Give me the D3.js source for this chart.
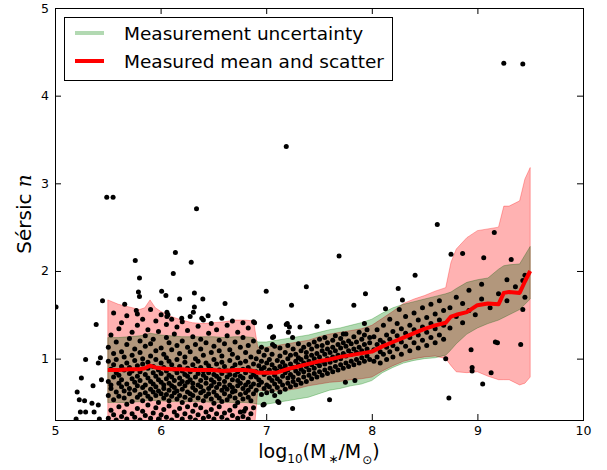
<!DOCTYPE html>
<html>
<head>
<meta charset="utf-8">
<script src="https://cdn.jsdelivr.net/npm/d3@7"></script>
<style>
  body { margin: 0; background: #fff; }
  svg { font-family: "DejaVu Sans", sans-serif; }
</style>
</head>
<body>
<svg id="chart" width="607" height="470"></svg>
<script>
// binned mean and scatter of Sersic n vs stellar mass
const binMass = [5.5, 5.6, 5.7, 5.8, 5.85, 5.9, 5.95, 6.0, 6.1, 6.2, 6.3, 6.4, 6.5, 6.6, 6.7, 6.8, 6.88, 6.92,
  7.0, 7.1, 7.2, 7.3, 7.4, 7.5, 7.6, 7.7, 7.8, 7.9, 8.0, 8.1, 8.2, 8.3, 8.4, 8.5, 8.6, 8.7, 8.75,
  8.8, 8.9, 9.0, 9.1, 9.2, 9.25, 9.3, 9.4, 9.45, 9.5];
const meanN = [0.87, 0.87, 0.88, 0.88, 0.89, 0.92, 0.90, 0.89, 0.88, 0.88, 0.87, 0.87, 0.87, 0.86, 0.87, 0.87, 0.86, 0.84,
  0.84, 0.84, 0.88, 0.91, 0.94, 0.97, 0.99, 1.02, 1.04, 1.06, 1.08, 1.14, 1.19, 1.24, 1.29, 1.34, 1.38, 1.41, 1.48,
  1.50, 1.53, 1.61, 1.63, 1.62, 1.75, 1.76, 1.75, 1.88, 2.00];
const scatterLo = [0.07, 0.06, 0.07, 0.08, 0.07, 0.05, 0.06, 0.08, 0.07, 0.08, 0.09, 0.08, 0.09, 0.08, 0.07, 0.08, 0.09, 0.64,
  0.63, 0.63, 0.64, 0.66, 0.69, 0.71, 0.73, 0.74, 0.76, 0.77, 0.79, 0.86, 0.92, 0.97, 1.00, 1.02, 1.03, 1.00, 0.92,
  0.85, 0.84, 0.85, 0.80, 0.76, 0.76, 0.76, 0.70, 0.72, 0.79];
const scatterHi = [1.67, 1.62, 1.59, 1.56, 1.58, 1.67, 1.58, 1.54, 1.48, 1.44, 1.41, 1.40, 1.41, 1.42, 1.44, 1.44, 1.43, 1.13,
  1.13, 1.15, 1.17, 1.19, 1.21, 1.25, 1.28, 1.30, 1.32, 1.34, 1.38, 1.46, 1.54, 1.63, 1.68, 1.72, 1.77, 1.81, 2.10,
  2.25, 2.38, 2.46, 2.48, 2.50, 2.74, 2.74, 2.80, 3.05, 3.18];
// measurement uncertainty around the mean
const errLo = [0.50, 0.50, 0.50, 0.51, 0.52, 0.53, 0.52, 0.52, 0.51, 0.51, 0.51, 0.51, 0.50, 0.50, 0.50, 0.50, 0.49, 0.48,
  0.48, 0.50, 0.52, 0.54, 0.56, 0.60, 0.64, 0.66, 0.69, 0.71, 0.75, 0.84, 0.90, 0.95, 0.98, 1.00, 1.01, 1.04, 1.10,
  1.17, 1.28, 1.35, 1.40, 1.44, 1.47, 1.50, 1.56, 1.62, 1.68];
const errHi = [1.24, 1.24, 1.25, 1.26, 1.27, 1.29, 1.28, 1.27, 1.26, 1.25, 1.25, 1.25, 1.25, 1.24, 1.25, 1.25, 1.24, 1.19,
  1.19, 1.21, 1.23, 1.25, 1.27, 1.30, 1.33, 1.35, 1.38, 1.41, 1.45, 1.52, 1.58, 1.62, 1.65, 1.68, 1.71, 1.74, 1.76,
  1.80, 1.87, 1.90, 1.92, 2.02, 2.06, 2.07, 2.08, 2.18, 2.28];

// individual galaxies, grouped as [log mass, [n values]]
const denseColumns = [
  [5.505, [0.32, 0.58, 0.74, 0.97, 1.13]], [5.53, [0.41, 0.66, 0.70, 0.88, 1.27]],
  [5.555, [0.36, 0.53, 0.79, 0.93, 1.06, 1.52]], [5.58, [0.30, 0.62, 0.84, 0.99, 1.19]],
  [5.605, [0.45, 0.57, 0.72, 0.81, 1.34]], [5.63, [0.34, 0.68, 0.76, 0.91, 1.08, 1.41]],
  [5.655, [0.39, 0.55, 0.63, 0.87, 1.02]], [5.68, [0.31, 0.48, 0.71, 0.95, 1.16, 1.49]],
  [5.705, [0.60, 0.66, 0.83, 0.90, 1.23]], [5.73, [0.37, 0.51, 0.77, 0.86, 1.04, 1.30]],
  [5.755, [0.33, 0.64, 0.73, 0.98, 1.11]], [5.78, [0.43, 0.56, 0.69, 0.80, 0.92, 1.38, 1.51]],
  [5.805, [0.30, 0.59, 0.75, 0.85, 1.07, 1.20]], [5.83, [0.40, 0.52, 0.67, 0.94, 1.00, 1.45]],
  [5.855, [0.35, 0.61, 0.70, 0.82, 1.14, 1.26]], [5.88, [0.47, 0.57, 0.78, 0.89, 0.96, 1.33]],
  [5.905, [0.32, 0.54, 0.65, 0.74, 1.03, 1.17, 1.56]], [5.93, [0.38, 0.62, 0.71, 0.84, 0.91, 1.22]],
  [5.955, [0.44, 0.58, 0.68, 0.80, 0.99, 1.09, 1.43]], [5.98, [0.31, 0.50, 0.63, 0.76, 0.87, 1.31]],
  [6.005, [0.36, 0.60, 0.73, 0.83, 0.95, 1.12, 1.50]], [6.03, [0.42, 0.55, 0.66, 0.70, 0.90, 1.05]],
  [6.055, [0.33, 0.59, 0.77, 0.86, 1.01, 1.24, 1.39]], [6.08, [0.46, 0.52, 0.64, 0.72, 0.81, 0.97, 1.18]],
  [6.105, [0.30, 0.57, 0.69, 0.79, 0.93, 1.10, 1.45]], [6.13, [0.39, 0.61, 0.67, 0.75, 0.88, 1.28]],
  [6.155, [0.35, 0.54, 0.63, 0.84, 0.99, 1.15, 1.36]], [6.18, [0.43, 0.58, 0.71, 0.78, 0.91, 1.06]],
  [6.205, [0.31, 0.50, 0.65, 0.74, 0.86, 1.20, 1.42]], [6.23, [0.37, 0.56, 0.69, 0.82, 0.96, 1.02]],
  [6.255, [0.45, 0.62, 0.73, 0.80, 0.89, 1.13, 1.32]], [6.28, [0.33, 0.53, 0.60, 0.76, 0.85, 1.08, 1.48]],
  [6.305, [0.40, 0.58, 0.67, 0.72, 0.93, 1.25]], [6.33, [0.30, 0.47, 0.64, 0.79, 0.88, 1.00, 1.16]],
  [6.355, [0.36, 0.55, 0.70, 0.83, 0.97, 1.37]], [6.38, [0.44, 0.61, 0.68, 0.75, 0.90, 1.11, 1.22]],
  [6.405, [0.32, 0.52, 0.63, 0.81, 0.86, 1.04, 1.44]], [6.43, [0.39, 0.57, 0.72, 0.78, 0.95, 1.18]],
  [6.455, [0.34, 0.60, 0.66, 0.84, 0.92, 1.29]], [6.48, [0.42, 0.54, 0.69, 0.76, 0.88, 1.07, 1.40]],
  [6.505, [0.31, 0.49, 0.62, 0.73, 0.82, 0.99, 1.14]], [6.53, [0.37, 0.58, 0.67, 0.80, 0.94, 1.33]],
  [6.555, [0.45, 0.55, 0.71, 0.77, 0.87, 1.09, 1.21]], [6.58, [0.33, 0.51, 0.64, 0.83, 0.96, 1.03, 1.46]],
  [6.605, [0.38, 0.60, 0.68, 0.74, 0.91, 1.17]], [6.63, [0.30, 0.53, 0.65, 0.79, 0.86, 1.26, 1.38]],
  [6.655, [0.41, 0.57, 0.70, 0.82, 0.98, 1.10]], [6.68, [0.35, 0.62, 0.67, 0.76, 0.89, 1.05, 1.43]],
  [6.705, [0.46, 0.55, 0.63, 0.81, 0.93, 1.19]], [6.73, [0.32, 0.50, 0.69, 0.75, 0.85, 1.01, 1.30]],
  [6.755, [0.39, 0.59, 0.72, 0.80, 0.95, 1.13]], [6.78, [0.34, 0.54, 0.66, 0.78, 0.88, 1.24, 1.41]],
  [6.805, [0.43, 0.61, 0.70, 0.84, 0.97, 1.07]], [6.83, [0.31, 0.56, 0.64, 0.73, 0.90, 1.15, 1.35]],
  [6.855, [0.37, 0.52, 0.68, 0.79, 0.86, 1.02]], [6.88, [0.44, 0.60, 0.71, 0.82, 0.94, 1.20, 1.42]],
  [6.905, [0.64, 0.79, 0.85, 1.00]], [6.93, [0.70, 0.76, 0.92, 1.08]], [6.955, [0.59, 0.73, 0.88, 0.97, 1.13]],
  [6.98, [0.66, 0.82, 0.90, 1.04]], [7.005, [0.61, 0.70, 0.84, 0.95, 1.10]], [7.03, [0.68, 0.78, 0.87, 0.99]],
  [7.055, [0.63, 0.75, 0.93, 1.05]], [7.08, [0.58, 0.71, 0.81, 0.89, 1.14]], [7.105, [0.67, 0.77, 0.86, 0.98]],
  [7.13, [0.62, 0.74, 0.91, 1.03, 1.12]], [7.155, [0.70, 0.80, 0.88, 0.96]], [7.18, [0.65, 0.84, 0.92, 1.07]],
  [7.205, [0.72, 0.78, 0.87, 1.00, 1.15]], [7.23, [0.68, 0.82, 0.94, 1.04]], [7.255, [0.74, 0.79, 0.90, 1.11]],
  [7.28, [0.70, 0.86, 0.97, 1.05]], [7.305, [0.76, 0.83, 0.93, 1.01, 1.17]], [7.33, [0.72, 0.88, 0.99, 1.09]],
  [7.355, [0.79, 0.85, 0.95, 1.13]], [7.38, [0.74, 0.91, 1.02, 1.07]], [7.405, [0.81, 0.87, 0.97, 1.16]],
  [7.43, [0.77, 0.93, 1.04, 1.11]], [7.455, [0.83, 0.89, 1.00, 1.19]], [7.48, [0.79, 0.95, 1.06, 1.14]],
  [7.505, [0.85, 0.92, 1.02, 1.22]], [7.53, [0.81, 0.97, 1.09, 1.15]], [7.555, [0.87, 0.94, 1.05, 1.24]],
  [7.58, [0.83, 1.00, 1.11, 1.18]], [7.605, [0.89, 0.96, 1.07]], [7.63, [0.85, 1.02, 1.13, 1.21]],
  [7.655, [0.91, 0.98, 1.09, 1.26]], [7.68, [0.87, 1.04, 1.16]], [7.705, [0.93, 1.00, 1.12, 1.23]],
  [7.73, [0.89, 1.06, 1.18]], [7.755, [0.95, 1.03, 1.14, 1.28]], [7.78, [0.91, 1.09, 1.20]],
  [7.805, [0.97, 1.05, 1.17]], [7.83, [0.93, 1.11, 1.25]], [7.855, [0.99, 1.07, 1.19]], [7.88, [0.95, 1.13, 1.30]],
  [7.905, [1.01, 1.09, 1.22]], [7.93, [0.97, 1.16, 1.27]], [7.955, [1.03, 1.11, 1.33]], [7.98, [0.99, 1.18, 1.24]],
  [8.02, [0.97, 1.10, 1.25]], [8.05, [1.02, 1.16, 1.33]], [8.08, [0.95, 1.08, 1.21]], [8.11, [1.05, 1.18, 1.38]],
  [8.14, [0.99, 1.13, 1.27]], [8.17, [1.08, 1.22, 1.45]], [8.20, [1.02, 1.15, 1.31]], [8.24, [1.11, 1.26, 1.40]],
  [8.28, [1.05, 1.19, 1.34]], [8.32, [1.14, 1.29, 1.48]], [8.36, [1.09, 1.24, 1.38]], [8.40, [1.18, 1.33, 1.52]],
  [8.44, [1.12, 1.27, 1.44]], [8.48, [1.21, 1.36, 1.58]], [8.52, [1.15, 1.30, 1.47]], [8.56, [1.24, 1.40, 1.62]],
  [8.60, [1.18, 1.34, 1.51]], [8.64, [1.27, 1.44, 1.66]], [8.68, [1.22, 1.38, 1.55]],
  [8.74, [1.35, 1.58]], [8.80, [1.48, 1.70]], [8.86, [1.41, 1.63]], [8.92, [1.55, 1.78]], [8.98, [1.50]],
  [9.04, [1.68, 1.85]], [9.12, [1.58]], [9.20, [1.74]], [9.28, [1.66, 1.90]], [9.36, [1.82]], [9.45, [1.70, 1.95]]
];
const outliers = [
  [5.49, 2.84], [5.55, 2.84], [6.34, 2.71], [7.19, 3.42], [9.25, 4.37], [9.43, 4.36], [8.62, 2.53], [9.16, 2.44],
  [5.01, 1.59], [5.76, 2.12], [6.14, 2.21], [6.29, 2.10], [6.12, 1.97], [5.80, 1.92], [5.79, 1.76], [5.45, 1.66],
  [5.80, 1.71], [6.01, 1.77], [6.05, 1.72], [6.18, 1.68], [6.32, 1.75], [6.40, 1.68], [6.61, 1.63], [6.32, 1.59],
  [6.31, 1.53], [6.06, 1.53], [6.07, 1.50], [6.06, 1.48], [5.66, 1.62], [5.77, 1.55], [6.20, 1.46], [6.39, 1.46],
  [6.45, 1.49], [5.39, 1.39], [7.00, 1.77], [7.03, 1.36], [7.06, 1.24], [7.24, 1.61], [7.20, 1.40], [7.22, 1.36],
  [7.32, 1.36], [7.38, 1.82], [5.29, 0.99], [5.43, 1.01], [5.41, 0.95], [5.25, 0.78], [5.36, 0.69], [5.44, 0.76],
  [5.21, 0.62], [5.23, 0.53], [5.28, 0.52], [5.35, 0.49], [5.41, 0.47], [5.24, 0.39], [5.29, 0.39], [5.37, 0.39],
  [5.20, 0.31], [5.42, 0.31], [6.98, 0.48], [7.11, 0.51], [7.69, 2.17], [7.48, 1.37], [7.59, 1.42], [7.94, 1.74],
  [7.83, 1.61], [8.25, 1.80], [8.29, 1.67], [8.13, 1.57], [8.26, 1.56], [8.41, 1.95], [8.75, 2.19], [8.86, 2.20],
  [9.06, 2.15], [9.32, 2.13], [7.60, 0.53], [8.73, 0.55], [9.05, 0.71], [9.13, 0.84], [8.95, 0.90], [8.95, 0.86],
  [8.94, 1.10], [9.17, 1.19], [9.19, 1.18], [9.41, 1.16], [8.70, 1.00], [9.43, 1.56], [9.43, 1.89], [7.73, 1.28],
  [6.89, 1.41], [7.04, 1.37], [7.19, 1.39], [7.07, 1.25], [7.21, 1.30], [7.06, 1.16], [7.25, 1.24], [6.97, 0.47],
  [7.12, 0.50], [7.75, 0.73], [7.84, 0.75], [6.79, 0.40], [7.93, 1.40], [7.25, 0.43]
];

const legendLabels = ["Measurement uncertainty", "Measured mean and scatter"];
const xTicks = [5, 6, 7, 8, 9, 10];
const yTicks = [1, 2, 3, 4, 5];

const svg = d3.select("#chart");
const x = d3.scaleLinear().domain([5, 10]).range([55, 583]);
const y = d3.scaleLinear().domain([0.3, 5]).range([420, 8]);

svg.append("rect").attr("width", 607).attr("height", 470).attr("fill", "#fff");

svg.append("clipPath").attr("id", "plotClip")
  .append("rect")
  .attr("x", x(5)).attr("y", y(5))
  .attr("width", x(10) - x(5)).attr("height", y(0.3) - y(5));

const plot = svg.append("g").attr("clip-path", "url(#plotClip)").style("isolation", "isolate");
plot.append("rect")
  .attr("x", x(5)).attr("y", y(5))
  .attr("width", x(10) - x(5)).attr("height", y(0.3) - y(5))
  .attr("fill", "#fff");

const galaxies = [];
denseColumns.forEach(([m, ns]) => ns.forEach((n) => galaxies.push([m, n])));
outliers.forEach((p) => galaxies.push(p));

plot.selectAll(".dot")
  .data(galaxies)
  .enter()
  .append("circle")
  .attr("class", "dot")
  .attr("cx", (d) => x(d[0]))
  .attr("cy", (d) => y(d[1]))
  .attr("r", 2.5)
  .attr("fill", "#000");

const bins = binMass.map((m, i) => ({
  m: m, mean: meanN[i], sLo: scatterLo[i], sHi: scatterHi[i], eLo: errLo[i], eHi: errHi[i]
}));

// green band first, red on top; multiply gives the olive overlap
const errArea = d3.area().x((d) => x(d.m)).y0((d) => y(d.eLo)).y1((d) => y(d.eHi));
const scatterArea = d3.area().x((d) => x(d.m)).y0((d) => y(d.sLo)).y1((d) => y(d.sHi));

plot.append("path")
  .datum(bins)
  .attr("d", errArea)
  .attr("fill", "#008000").attr("fill-opacity", 0.3)
  .attr("stroke", "#008000").attr("stroke-opacity", 0.3).attr("stroke-width", 1)
  .style("mix-blend-mode", "multiply");

plot.append("path")
  .datum(bins)
  .attr("d", scatterArea)
  .attr("fill", "#ff0000").attr("fill-opacity", 0.3)
  .attr("stroke", "#ff0000").attr("stroke-opacity", 0.3).attr("stroke-width", 1)
  .style("mix-blend-mode", "multiply");

plot.append("path")
  .datum(bins)
  .attr("d", d3.line().x((d) => x(d.m)).y((d) => y(d.mean)))
  .attr("fill", "none")
  .attr("stroke", "#ff0000")
  .attr("stroke-width", 4)
  .attr("stroke-linejoin", "round");

// axes, ticks pointing inwards on all four sides
function styleAxis(g) {
  g.select(".domain").remove();
  g.selectAll(".tick line").attr("stroke", "#000");
  g.selectAll(".tick text").attr("fill", "#000").attr("font-size", 12.5).attr("font-family", "DejaVu Sans");
}

svg.append("g")
  .attr("transform", `translate(0,${y(0.3)})`)
  .call(d3.axisBottom(x).tickValues(xTicks).tickFormat(d3.format("d"))
    .tickSizeInner(-6).tickSizeOuter(0).tickPadding(6))
  .call(styleAxis);
svg.append("g")
  .attr("transform", `translate(0,${y(5)})`)
  .call(d3.axisTop(x).tickValues(xTicks).tickSizeInner(-6).tickSizeOuter(0).tickFormat(""))
  .call(styleAxis);
svg.append("g")
  .attr("transform", `translate(${x(5)},0)`)
  .call(d3.axisLeft(y).tickValues(yTicks).tickFormat(d3.format("d"))
    .tickSizeInner(-6).tickSizeOuter(0).tickPadding(6))
  .call(styleAxis);
svg.append("g")
  .attr("transform", `translate(${x(10)},0)`)
  .call(d3.axisRight(y).tickValues(yTicks).tickSizeInner(-6).tickSizeOuter(0).tickFormat(""))
  .call(styleAxis);

svg.append("rect")
  .attr("x", x(5)).attr("y", y(5))
  .attr("width", x(10) - x(5)).attr("height", y(0.3) - y(5))
  .attr("fill", "none").attr("stroke", "#000").attr("stroke-width", 1)
  .attr("shape-rendering", "crispEdges");

// axis labels
const xLabel = svg.append("text")
  .attr("x", (x(5) + x(10)) / 2)
  .attr("y", 458)
  .attr("text-anchor", "middle")
  .attr("font-size", 19)
  .attr("fill", "#000");
xLabel.append("tspan").text("log");
xLabel.append("tspan").attr("font-size", 12).attr("dy", 5).text("10");
xLabel.append("tspan").attr("dy", -5).text("(M");
xLabel.append("tspan").attr("font-size", 12).attr("dy", 5).attr("dx", 2).text("\u2217");
xLabel.append("tspan").attr("dy", -5).text("/M");
xLabel.append("tspan").attr("font-size", 12).attr("dy", 6).attr("dx", 1).text("\u2299");
xLabel.append("tspan").attr("dy", -6).text(")");

const yLabel = svg.append("text")
  .attr("transform", `translate(31,${(y(0.3) + y(5)) / 2}) rotate(-90)`)
  .attr("text-anchor", "middle")
  .attr("font-size", 20)
  .attr("fill", "#000");
yLabel.append("tspan").text("Sérsic ");
yLabel.append("tspan").attr("font-family", "DejaVu Serif").attr("font-style", "italic").text("n");

// legend
const legend = svg.append("g");
legend.append("rect")
  .attr("x", 64.5).attr("y", 17.5).attr("width", 328).attr("height", 63)
  .attr("fill", "#fff").attr("stroke", "#000").attr("stroke-width", 1);
const legendStyles = [
  { color: "#008000", opacity: 0.3 },
  { color: "#ff0000", opacity: 1 }
];
legendLabels.forEach((label, i) => {
  const cy = 33 + i * 28;
  legend.append("line")
    .attr("x1", 75).attr("x2", 104).attr("y1", cy).attr("y2", cy)
    .attr("stroke", legendStyles[i].color)
    .attr("stroke-opacity", legendStyles[i].opacity)
    .attr("stroke-width", 4);
  legend.append("text")
    .attr("x", 124).attr("y", cy + 7)
    .attr("font-size", 18.5)
    .attr("fill", "#000")
    .text(label);
});
</script>
</body>
</html>
